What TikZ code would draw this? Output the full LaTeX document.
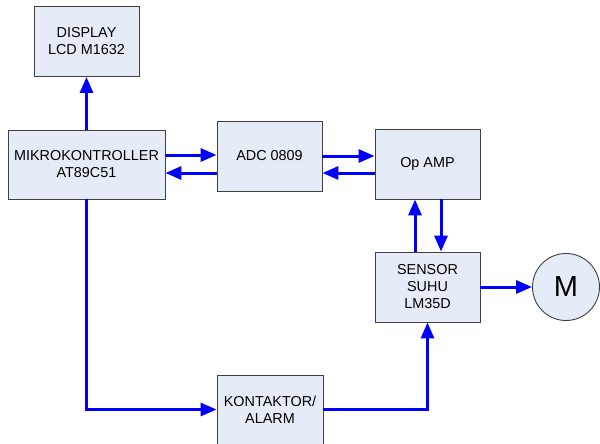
\documentclass[tikz,border=0pt]{standalone}
\usepackage{fontspec}
\setmainfont{Liberation Sans}
\usetikzlibrary{arrows.meta}
\definecolor{boxfill}{HTML}{E6ECF7}
\definecolor{boxline}{HTML}{404040}
\begin{document}
\begin{tikzpicture}[x=1pt,y=-1pt,
  blk/.style={draw=boxline,fill=boxfill,line width=0.9pt,minimum width=105pt,minimum height=70pt,inner sep=0pt,align=center,font=\fontsize{14.4}{17}\selectfont},
  arr/.style={draw={rgb,255:red,0;green,0;blue,255},line width=3pt,-{Triangle[length=16pt,width=13pt]}}]
\useasboundingbox (0,0) rectangle (600,444);
\node[blk] (disp) at (86.5,41.5) {DISPLAY\\LCD M1632};
\node[blk,minimum width=157pt,minimum height=69pt] (mikro) at (86.5,164.5) {MIKROKONTROLLER\\AT89C51};
\node[blk] (adc) at (269.5,156) {ADC 0809};
\node[blk] (op) at (427.5,164) {Op AMP};
\node[blk] (sens) at (427.5,287) {SENSOR\\SUHU\\LM35D};
\node[blk,minimum width=106pt,minimum height=69pt] (kont) at (270,409.5) {KONTAKTOR/\\ALARM};
\node[draw=boxline,fill=boxfill,line width=0.9pt,circle,minimum size=67pt,inner sep=0pt,font=\fontsize{29}{32}\selectfont] (m) at (566,287) {M};
\draw[arr] (mikro.north) -- (disp.south);
\draw[arr] (mikro.east |- 0,155) -- (adc.west |- 0,155);
\draw[arr] (adc.west |- 0,173) -- (mikro.east |- 0,173);
\draw[arr] (adc.east |- 0,156) -- (op.west |- 0,156);
\draw[arr] (op.west |- 0,173) -- (adc.east |- 0,173);
\draw[arr] (sens.north -| 415,0) -- (op.south -| 415,0);
\draw[arr] (op.south -| 441,0) -- (sens.north -| 441,0);
\draw[arr] (sens.east) -- (m.west);
\draw[arr] (mikro.south) |- (kont.west);
\draw[arr] (kont.east) -| (sens.south);
\end{tikzpicture}
\end{document}
